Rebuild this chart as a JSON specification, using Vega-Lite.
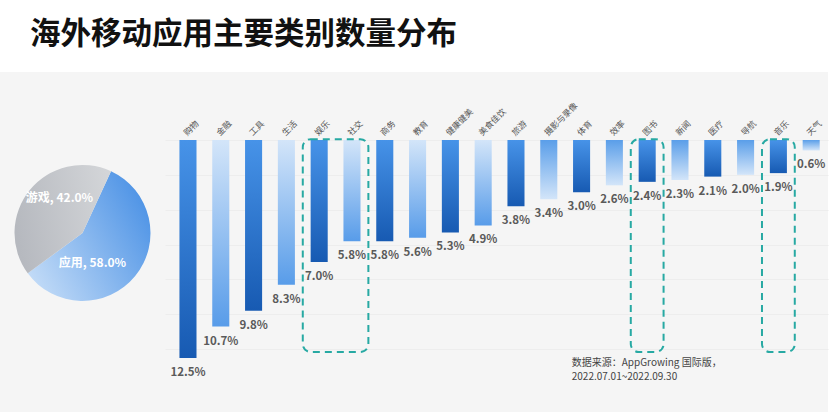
{
  "$schema": "https://vega.github.io/schema/vega-lite/v6.json",
  "background": "white",
  "padding": {"top": 19, "left": 0, "right": 9, "bottom": 0},
  "spacing": 0,
  "title": {"text": "海外移动应用主要类别数量分布", "anchor": "start", "frame": "group", "fontSize": 30.5, "fontWeight": "bold", "color": "#111111", "dx": 30, "offset": 22},
  "config": {"font": "Noto Sans CJK SC", "view": {"stroke": null, "fill": "#f5f5f5"}},
  "hconcat": [
    {
      "width": 165,
      "height": 340,
      "view": {"fill": "#f5f5f5", "stroke": null},
      "data": {"values": [{"type": "游戏", "share": 42.0}, {"type": "应用", "share": 58.0}]},
      "transform": [
        {"stack": "share", "groupby": [], "sort": [{"field": "type", "order": "ascending"}], "as": ["s0", "s1"]},
        {"calculate": "datum.type + ', ' + format(datum.share, '.1f') + '%'", "as": "label"}
      ],
      "layer": [
        {
          "data": {"values": [{}]},
          "transform": [],
          "mark": {"type": "rect", "color": "#f5f5f5", "cornerRadiusTopLeft": 10},
          "encoding": {}
        },
        {
          "transform": [{"filter": "datum.type == '应用'"}],
          "mark": {"type": "arc", "radius": 68, "yOffset": -9, "color": {"gradient": "linear", "x1": 0, "y1": 0.8, "x2": 1, "y2": 0.2, "stops": [{"offset": 0, "color": "#c2dbf7"}, {"offset": 1, "color": "#4a91e5"}]}},
          "encoding": {
            "theta": {"field": "s0", "type": "quantitative", "scale": {"domain": [0, 100], "range": [0.433, 6.716]}},
            "theta2": {"field": "s1"}
          }
        },
        {
          "transform": [{"filter": "datum.type == '游戏'"}],
          "mark": {"type": "arc", "radius": 68, "yOffset": -9, "color": {"gradient": "linear", "x1": 0, "y1": 0.5, "x2": 1, "y2": 0.3, "stops": [{"offset": 0, "color": "#b6b9bf"}, {"offset": 1, "color": "#d3d5d8"}]}},
          "encoding": {
            "theta": {"field": "s0", "type": "quantitative"},
            "theta2": {"field": "s1"}
          }
        },
        {
          "transform": [{"filter": "datum.type == '游戏'"}],
          "mark": {"type": "text", "color": "white", "fontSize": 12, "fontWeight": "bold", "align": "center", "baseline": "middle", "dx": -23, "dy": -44},
          "encoding": {"text": {"field": "label"}}
        },
        {
          "transform": [{"filter": "datum.type == '应用'"}],
          "mark": {"type": "text", "color": "white", "fontSize": 12, "fontWeight": "bold", "align": "center", "baseline": "middle", "dx": 10, "dy": 21},
          "encoding": {"text": {"field": "label"}}
        }
      ]
    },
    {
      "width": 663,
      "height": 340,
      "data": {"values": [
        {"category": "购物", "share": 12.5},
        {"category": "金融", "share": 10.7},
        {"category": "工具", "share": 9.8},
        {"category": "生活", "share": 8.3},
        {"category": "娱乐", "share": 7.0},
        {"category": "社交", "share": 5.8},
        {"category": "商务", "share": 5.8},
        {"category": "教育", "share": 5.6},
        {"category": "健康健美", "share": 5.3},
        {"category": "美食佳饮", "share": 4.9},
        {"category": "旅游", "share": 3.8},
        {"category": "摄影与录像", "share": 3.4},
        {"category": "体育", "share": 3.0},
        {"category": "效率", "share": 2.6},
        {"category": "图书", "share": 2.4},
        {"category": "新闻", "share": 2.3},
        {"category": "医疗", "share": 2.1},
        {"category": "导航", "share": 2.0},
        {"category": "音乐", "share": 1.9},
        {"category": "天气", "share": 0.6}
      ]},
      "encoding": {
        "x": {"field": "category", "type": "nominal", "axis": null, "scale": {"domain": ["购物","金融","工具","生活","娱乐","社交","商务","教育","健康健美","美食佳饮","旅游","摄影与录像","体育","效率","图书","新闻","医疗","导航","音乐","天气"], "paddingInner": 0, "paddingOuter": 0.1067, "align": 0.94}}
      },
      "layer": [
        {
          "transform": [{"filter": {"field": "category", "oneOf": ["购物","工具","娱乐","商务","健康健美","旅游","体育","图书","医疗","音乐"]}}],
          "mark": {"type": "bar", "width": {"band": 0.52}, "color": {"gradient": "linear", "x1": 0, "y1": 0, "x2": 0, "y2": 1, "stops": [{"offset": 0, "color": "#4793e8"}, {"offset": 1, "color": "#175ab2"}]}},
          "encoding": {
            "y": {"field": "share", "type": "quantitative", "scale": {"domain": [-3.9, 15.6], "reverse": true, "nice": false, "zero": false}, "axis": {"grid": true, "gridColor": "#ededed", "values": [0, 2, 4, 6, 8, 10, 12], "labels": false, "ticks": false, "domain": false, "title": null}},
            "y2": {"datum": 0}
          }
        },
        {
          "transform": [{"filter": {"field": "category", "oneOf": ["金融","生活","社交","教育","美食佳饮"]}}],
          "mark": {"type": "bar", "width": {"band": 0.52}, "color": {"gradient": "linear", "x1": 0, "y1": 0, "x2": 0, "y2": 1, "stops": [{"offset": 0, "color": "#d3e5f9"}, {"offset": 1, "color": "#589ce9"}]}},
          "encoding": {"y": {"field": "share", "type": "quantitative"}, "y2": {"datum": 0}}
        },
        {
          "transform": [{"filter": {"field": "category", "oneOf": ["摄影与录像","效率","新闻","导航","天气"]}}],
          "mark": {"type": "bar", "width": {"band": 0.52}, "color": {"gradient": "linear", "x1": 0, "y1": 0, "x2": 0, "y2": 1, "stops": [{"offset": 0, "color": "#5a9ee9"}, {"offset": 1, "color": "#d3e5f9"}]}},
          "encoding": {"y": {"field": "share", "type": "quantitative"}, "y2": {"datum": 0}}
        },
        {
          "transform": [{"calculate": "format(datum.share, '.1f') + '%'", "as": "label"}],
          "mark": {"type": "text", "fontSize": 11.5, "fontWeight": "bold", "color": "#5a5a5a", "baseline": "middle", "align": "center", "dy": 15},
          "encoding": {"y": {"field": "share", "type": "quantitative"}, "text": {"field": "label"}}
        },
        {
          "mark": {"type": "text", "fontSize": 8.5, "color": "#555555", "angle": -45, "align": "left", "baseline": "middle"},
          "encoding": {
            "x": {"field": "category", "type": "nominal", "bandPosition": 0.41},
            "y": {"datum": -0.34},
            "text": {"field": "category"}
          }
        },
        {
          "data": {"values": [{"from": "娱乐", "to": "社交"}, {"from": "图书", "to": "图书"}, {"from": "音乐", "to": "音乐"}]},
          "mark": {"type": "rect", "fill": null, "fillOpacity": 0, "stroke": "#27a9a3", "strokeWidth": 2, "strokeDash": [7, 5], "cornerRadius": 8},
          "encoding": {
            "x": {"field": "from", "type": "nominal", "bandPosition": 0},
            "x2": {"field": "to", "bandPosition": 1},
            "y": {"datum": -0.05},
            "y2": {"datum": 12.16}
          }
        },
        {
          "data": {"values": [{}]},
          "mark": {"type": "text", "text": ["数据来源：AppGrowing 国际版，", "2022.07.01~2022.09.30"], "fontSize": 10, "color": "#444444", "align": "left", "baseline": "top", "lineHeight": 14},
          "encoding": {
            "x": {"datum": "体育", "bandPosition": 0.2},
            "y": {"datum": 12.5}
          }
        }
      ]
    }
  ]
}
